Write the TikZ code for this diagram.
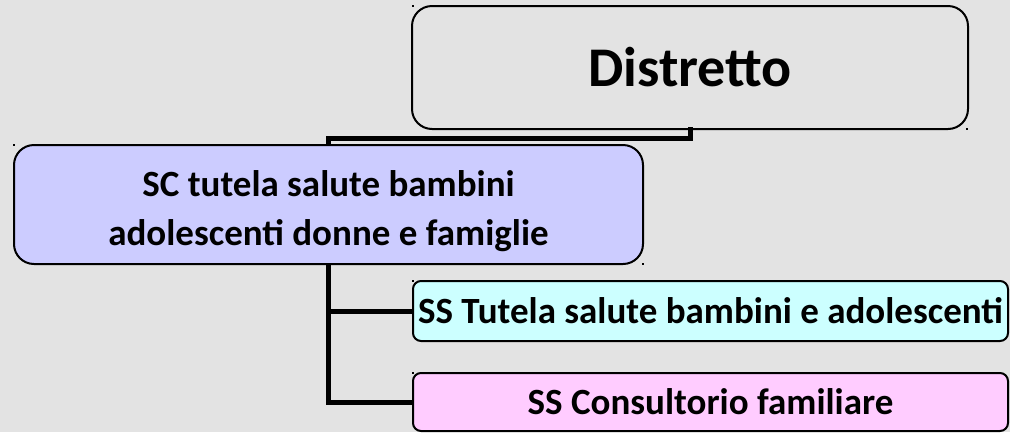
\documentclass[tikz,border=0pt]{standalone}
\usepackage{fontspec}
\setmainfont{Carlito}
\definecolor{bg}{HTML}{E3E3E3}
\definecolor{scfill}{HTML}{CCCCFF}
\definecolor{ssafill}{HTML}{CCFFFF}
\definecolor{ssbfill}{HTML}{FFCCFF}
\tikzset{
  bigbox/.style={draw=black, line width=2pt, rounded corners=20pt, inner sep=0pt, font=\bfseries},
  smallbox/.style={draw=black, line width=2pt, rounded corners=8pt, inner sep=0pt, font=\bfseries},
  conn/.style={draw=black, line width=5pt},
  marker/.style={fill=black}
}
\begin{document}
\begin{tikzpicture}[x=1pt, y=-1pt]
\fill[bg] (0,0) rectangle (1010,432);
\useasboundingbox (0,0) rectangle (1010,432);
\node[bigbox, fill=bg, minimum width=556pt, minimum height=123pt, font=\bfseries\fontsize{56}{64}\selectfont] (dist) at (690,67.5) {Distretto};
\node[bigbox, fill=scfill, minimum width=629pt, minimum height=119pt] (sc) at (328.5,204.5) {};
\node[align=center, inner sep=0pt, font=\bfseries\fontsize{37}{49}\selectfont] (sctext) at ([yshift=-7pt]sc.center) {SC tutela salute bambini\\adolescenti donne e famiglie};
\node[smallbox, fill=ssafill, minimum width=595pt, minimum height=60pt, font=\bfseries\fontsize{37}{44}\selectfont] (ssa) at (710.5,311) {SS Tutela salute bambini e adolescenti};
\node[smallbox, fill=ssbfill, minimum width=595pt, minimum height=58pt, font=\bfseries\fontsize{37}{44}\selectfont] (ssb) at (710.5,402) {SS Consultorio familiare};
\draw[conn] ([yshift=3pt]dist.south) -- ++(0,11.5) -| (sc.north);
\draw[conn] (sc.south) |- (ssa.west);
\draw[conn] (sc.south) |- (ssb.west);
% small selection markers
\foreach \p in {(413,6),(967,129),(14,145),(643,264),(413,281),(413,373)}
  \fill[marker] \p ++(-1,-1) rectangle ++(2,2);
\end{tikzpicture}
\end{document}
